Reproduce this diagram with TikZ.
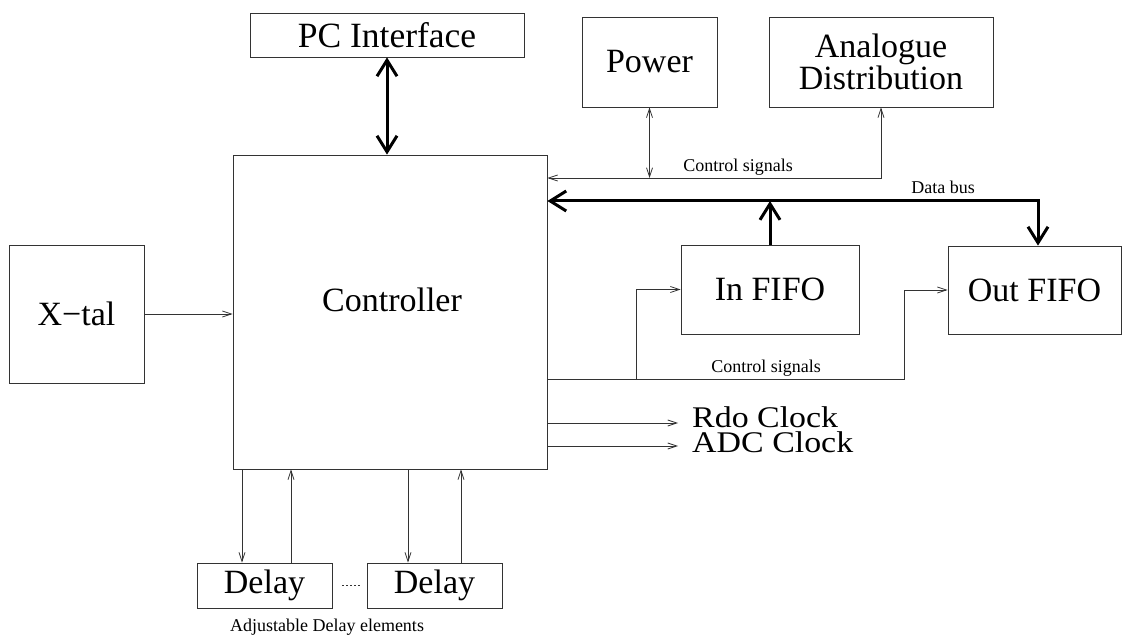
\documentclass[tikz,border=0pt]{standalone}
\usepackage{fontspec}
\setmainfont{Liberation Serif}
\usetikzlibrary{arrows.meta}
\begin{document}
\begin{tikzpicture}[x=1pt,y=-1pt,
  blk/.style={draw=black!80, line width=0.8pt, inner sep=0pt, align=center,
              font=\fontsize{34}{32}\selectfont},
  big/.style={inner sep=0pt, font=\fontsize{34}{32}\selectfont},
  small/.style={inner sep=0pt, font=\fontsize{18}{18}\selectfont},
  sig/.style={draw=black!80, line width=0.8pt,
              arrows={-Straight Barb[length=9pt,width=6pt,line width=0.8pt]}},
  sigboth/.style={draw=black!80, line width=0.8pt,
              arrows={Straight Barb[length=9pt,width=6pt,line width=0.8pt]-Straight Barb[length=9pt,width=6pt,line width=0.8pt]}},
  plain/.style={draw=black!80, line width=0.8pt},
  bus/.style={draw=black, line width=3pt,
              arrows={-Straight Barb[length=16pt,width=20pt,line width=3pt]}},
  busboth/.style={draw=black, line width=3pt,
              arrows={Straight Barb[length=16pt,width=20pt,line width=3pt]-Straight Barb[length=16pt,width=20pt,line width=3pt]}}
]
\useasboundingbox (0,0) rectangle (1123,636);

% blocks
\node[blk, minimum width=274pt, minimum height=44pt, font=\fontsize{35.5}{32}\selectfont] (pc) at (387,35) {PC Interface};
\node[blk, minimum width=135pt, minimum height=90pt] (power) at (649.5,62) {Power};
\node[blk, minimum width=224pt, minimum height=90pt] (ana) at (881,62) {Analogue\\Distribution};
\node[blk, minimum width=314pt, minimum height=314pt] (ctrl) at (390,312) {};
\node[big] (ctrltxt) at (392,300) {Controller};
\node[blk, minimum width=135pt, minimum height=138pt] (xtal) at (76.5,314) {X−tal};
\node[blk, minimum width=178pt, minimum height=89pt] (infifo) at (770,289.5) {In FIFO};
\node[blk, minimum width=173pt, minimum height=88pt] (outfifo) at (1034.5,290) {Out FIFO};
\node[blk, minimum width=135pt, minimum height=45pt] (delay1) at (264.5,585.5) {Delay};
\node[blk, minimum width=135pt, minimum height=45pt] (delay2) at (434.5,585.5) {Delay};

% clock outputs
\node[inner sep=0pt, align=left, anchor=north west,
      font=\fontsize{30}{25}\selectfont] (clocks) at (692,406)
      {\scalebox{1.13}[1]{Rdo Clock}\\\scalebox{1.13}[1]{ADC Clock}};
\coordinate (rdoend) at (678,423);
\coordinate (adcend) at (678,446);
\draw[sig] (rdoend -| ctrl.east) -- (rdoend);
\draw[sig] (adcend -| ctrl.east) -- (adcend);

% PC link
\draw[busboth] (pc.south) -- (pc.south |- ctrl.north);

% upper control signals
\coordinate (ctly) at (0,178);
\draw[sigboth] (ctrl.east |- ctly) -- (ana.south |- ctly) -- (ana.south);
\draw[sigboth] (power.south) -- (power.south |- ctly);
\node[small] (ctllbl1) at (738,167) {Control signals};

% data bus
\coordinate (busturn) at (1038,201);
\draw[busboth] (busturn -| ctrl.east) -- (busturn) -- (busturn |- outfifo.north);
\draw[bus] (infifo.north) -- (infifo.north |- busturn);
\node[small] (buslbl) at (943,187) {Data bus};

% lower control signals to the FIFOs
\coordinate (lowy) at (0,379);
\coordinate (outturn) at (904,0);
\coordinate (inturn) at (636,0);
\draw[sig] (ctrl.east |- lowy) -- (outturn |- lowy) -- (outturn |- outfifo.west) -- (outfifo.west);
\draw[sig] (inturn |- lowy) -- (inturn |- infifo.west) -- (infifo.west);
\node[small] (ctllbl2) at (766,368) {Control signals};

% crystal
\draw[sig] (xtal.east) -- (xtal.east -| ctrl.west);

% delay chain
\coordinate (d1in) at (242,0);
\coordinate (d1out) at (291,0);
\coordinate (d2in) at (408,0);
\coordinate (d2out) at (461,0);
\draw[sig] (d1in |- ctrl.south) -- (d1in |- delay1.north);
\draw[sig] (d1out |- delay1.north) -- (d1out |- ctrl.south);
\draw[sig] (d2in |- ctrl.south) -- (d2in |- delay2.north);
\draw[sig] (d2out |- delay2.north) -- (d2out |- ctrl.south);
\draw[plain, dash pattern=on 2pt off 2pt] ([xshift=10pt]delay1.east) -- ([xshift=-5pt]delay2.west);
\node[small] (adjlbl) at (327,627) {Adjustable Delay elements};
\end{tikzpicture}
\end{document}
